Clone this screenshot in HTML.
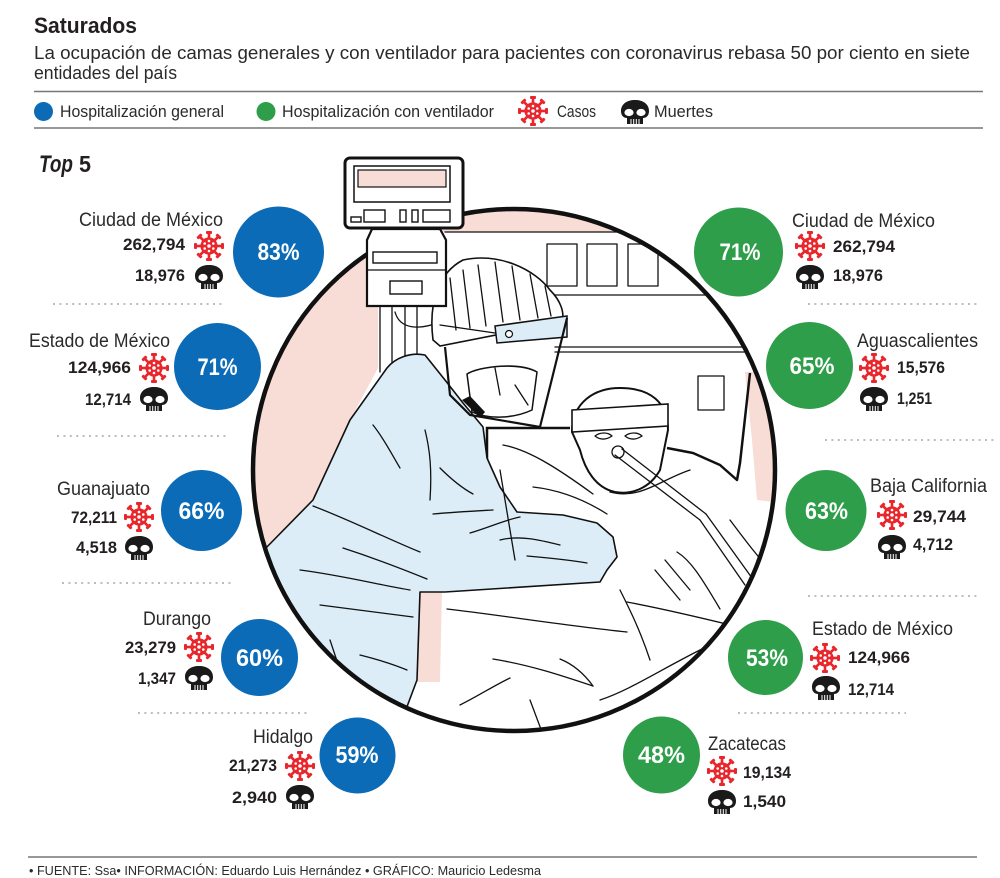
<!DOCTYPE html>
<html><head><meta charset="utf-8"><style>
html,body{margin:0;padding:0;background:#fff;}
svg{display:block;}
text{font-family:"Liberation Sans",sans-serif;}
.nm{font-size:19px;fill:#2a2a2a;}
.nb{font-size:17px;font-weight:bold;fill:#231f20;}
.pc{font-size:24px;font-weight:bold;fill:#fff;}
.ln{fill:none;stroke:#111;stroke-width:1.3;stroke-linecap:round;stroke-linejoin:round;}
.dt{stroke:#bdbdbd;stroke-width:2;stroke-dasharray:2 4.4;}
</style></head><body>
<svg width="1000" height="878" viewBox="0 0 1000 878" xmlns="http://www.w3.org/2000/svg">
<defs>
<g id="sp"><rect x="-1.3" y="-13" width="2.6" height="6"/><rect x="-3" y="-15" width="6" height="3" rx="1"/></g>
<g id="vir" fill="#e8262b">
<circle r="8.6"/>
<use href="#sp"/><use href="#sp" transform="rotate(45)"/><use href="#sp" transform="rotate(90)"/><use href="#sp" transform="rotate(135)"/><use href="#sp" transform="rotate(180)"/><use href="#sp" transform="rotate(225)"/><use href="#sp" transform="rotate(270)"/><use href="#sp" transform="rotate(315)"/>
<g fill="#fff"><circle r="1.8"/><circle cx="0" cy="-5" r="1.3"/><circle cx="4.3" cy="-2.5" r="1.3"/><circle cx="4.3" cy="2.5" r="1.3"/><circle cx="0" cy="5" r="1.3"/><circle cx="-4.3" cy="2.5" r="1.3"/><circle cx="-4.3" cy="-2.5" r="1.3"/></g>
</g>
<g id="sk">
<path d="M0,-12 C8,-12 14,-8 14,-1 C14,4 11,6 8,6 L8,12 L-8,12 L-8,6 C-11,6 -14,4 -14,-1 C-14,-8 -8,-12 0,-12Z" fill="#1a1a1a"/>
<ellipse cx="-6" cy="0.5" rx="4.6" ry="3.6" fill="#fff"/>
<ellipse cx="6" cy="0.5" rx="4.6" ry="3.6" fill="#fff"/>
<path d="M-4,7V12M-1.3,7V12M1.3,7V12M4,7V12" stroke="#fff" stroke-width="1"/>
</g>
<clipPath id="cc"><circle cx="514" cy="470" r="261"/></clipPath>
</defs>

<!-- Header -->
<text x="34" y="33" font-size="22" font-weight="bold" fill="#231f20" textLength="103" lengthAdjust="spacingAndGlyphs">Saturados</text>
<text x="34" y="59" font-size="18" fill="#2a2a2a" textLength="936" lengthAdjust="spacingAndGlyphs">La ocupación de camas generales y con ventilador para pacientes con coronavirus rebasa 50 por ciento en siete</text>
<text x="34" y="79" font-size="18" fill="#2a2a2a" textLength="143" lengthAdjust="spacingAndGlyphs">entidades del país</text>
<line x1="34" y1="91.5" x2="983" y2="91.5" stroke="#777" stroke-width="1.5"/>
<line x1="34" y1="128" x2="983" y2="128" stroke="#777" stroke-width="1.5"/>

<!-- Legend -->
<circle cx="43.5" cy="111.5" r="9.5" fill="#0b6bb7"/>
<text x="60" y="117" font-size="17" fill="#2a2a2a" textLength="164" lengthAdjust="spacingAndGlyphs">Hospitalización general</text>
<circle cx="266" cy="111.5" r="9.5" fill="#2e9e4a"/>
<text x="282" y="117" font-size="17" fill="#2a2a2a" textLength="212" lengthAdjust="spacingAndGlyphs">Hospitalización con ventilador</text>
<use href="#vir" transform="translate(533,111)"/>
<text x="557" y="117" font-size="17" fill="#2a2a2a" textLength="39" lengthAdjust="spacingAndGlyphs">Casos</text>
<use href="#sk" transform="translate(635,112)"/>
<text x="654" y="117" font-size="17" fill="#2a2a2a" textLength="59" lengthAdjust="spacingAndGlyphs">Muertes</text>

<!-- Top 5 -->
<text x="39" y="172" font-size="24" font-weight="bold" font-style="italic" fill="#231f20" textLength="34" lengthAdjust="spacingAndGlyphs">Top</text>
<text x="79" y="172" font-size="23" font-weight="bold" fill="#231f20" textLength="12" lengthAdjust="spacingAndGlyphs">5</text>

<!-- Illustration -->
<circle cx="514" cy="470" r="261" fill="#fff"/>
<g clip-path="url(#cc)">
<path d="M240,190 H800 V232 H378 V368 L350,420 L313,500 L262,552 L240,560 Z" fill="#f8dcd6"/>
<path d="M745,372 L800,372 L800,505 L757,500 L752,440 Z" fill="#f8dcd6"/>
<path d="M417,590 L442,588 L440,682 L417,682 Z" fill="#f8dcd6"/>
<!-- room -->
<g class="ln" stroke-width="1.5">
<line x1="445" y1="232" x2="800" y2="232"/>
<rect x="547" y="244" width="30" height="42"/>
<rect x="587" y="244" width="30" height="42"/>
<rect x="628" y="244" width="30" height="42"/>
<line x1="540" y1="295" x2="760" y2="295"/>
<line x1="555" y1="347" x2="780" y2="347"/>
<line x1="555" y1="352" x2="780" y2="352"/>
<rect x="698" y="376" width="26" height="34"/>
<line x1="380" y1="307" x2="380" y2="372"/>
<line x1="392" y1="307" x2="392" y2="372"/>
<line x1="405" y1="307" x2="405" y2="372"/>
<line x1="417" y1="307" x2="417" y2="372"/>
<path d="M395,312 C400,330 420,330 440,322"/>
</g>
<path d="M750,373 L740,463 L737,480 L720,465 L693,453 L667,448" fill="none" stroke="#111" stroke-width="2.5" stroke-linejoin="round"/>
<path d="M487,560 L487,428 L570,428" fill="none" stroke="#111" stroke-width="2.5"/>
<!-- nurse body -->
<path d="M387,368 C395,358 410,352 425,355 L445,380 L463,403 L483,427 L487,458 L500,487 L517,512 L563,515 L597,523 L613,537 L617,557 L607,570 L600,582 L445,592 L420,592 L417,680 L405,712 L250,712 L250,552 L262,552 L313,500 L350,420 Z" fill="#dcedf8" stroke="#111" stroke-width="1.6" stroke-linejoin="round"/>
<!-- nurse cap -->
<path d="M433,340 C428,300 440,272 463,260 C500,252 535,270 550,290 C560,300 565,312 562,322 L440,346 Z" fill="#fff" stroke="#111" stroke-width="1.6"/>
<g class="ln">
<path d="M450,278 L456,330"/><path d="M463,270 L470,328"/><path d="M478,265 L486,326"/><path d="M495,262 L503,322"/><path d="M512,266 L520,320"/><path d="M530,274 L538,318"/><path d="M545,286 L551,316"/>
</g>
<path d="M495,326 L567,316 L567,337 L497,343 Z" fill="#dcedf8" stroke="#111" stroke-width="1.5"/>
<path class="ln" d="M440,325 L495,333"/>
<circle cx="509" cy="334" r="3.5" fill="#fff" stroke="#111" stroke-width="1.2"/>
<path d="M445,347 L450,395 L470,415 L540,427 L567,318" fill="none" stroke="#111" stroke-width="2.2"/>
<path d="M467,374 C480,366 520,362 537,372 L532,410 C515,418 490,420 472,412 Z" fill="#fff" stroke="#111" stroke-width="1.5"/>
<path d="M462,400 L470,396 L485,412 L480,418 Z" fill="#111"/>
<path class="ln" d="M495,368 L500,395 M515,385 L528,405"/>
<!-- patient -->
<path d="M572,432 C572,402 595,388 620,388 C650,388 668,402 668,430 L660,470 C650,488 632,495 615,492 C596,488 585,470 580,450 Z" fill="#fff" stroke="#111" stroke-width="2"/>
<path d="M572,410 L668,404 L668,426 L572,432 Z" fill="#fff" stroke="#111" stroke-width="1.6"/>
<g class="ln">
<path d="M595,436 C600,432 608,432 612,436 C606,440 600,440 595,436Z"/>
<path d="M625,436 C630,432 638,432 642,436 C636,440 630,440 625,436Z"/>
<circle cx="618" cy="452" r="6"/>
<path d="M615,455 L700,520 M622,449 L706,514"/>
<path d="M700,520 L745,585 M706,514 L752,578"/>
<path d="M503,445 C530,450 560,470 593,494"/>
<path d="M533,487 C560,490 585,500 607,514"/>
<path d="M610,492 C640,500 660,480 690,470"/>
<path d="M677,552 C690,560 700,575 720,609"/>
<path d="M665,560 L690,590 M655,570 L680,600"/>
<path d="M447,609 C500,615 560,625 627,632"/>
<path d="M493,659 C530,665 560,675 593,686"/>
<path d="M560,659 C575,665 585,675 593,686"/>
<path d="M627,602 C670,610 710,620 743,628"/>
<path d="M460,705 C480,695 495,685 510,678"/>
<path d="M600,700 C630,690 660,670 700,650"/>
<path d="M530,700 L545,740 M640,710 L650,740"/>
<path d="M620,590 C630,610 640,630 650,660"/>
<path d="M700,650 C720,640 745,630 770,625"/>
<path d="M730,520 C745,540 760,560 775,575"/>
<path d="M500,470 C505,500 510,530 515,560"/>
</g>
<!-- nurse folds -->
<g class="ln">
<path d="M313,506 C350,520 390,540 420,552"/>
<path d="M343,548 C380,560 405,570 427,579"/>
<path d="M320,605 C360,610 390,614 413,617"/>
<path d="M300,570 C340,575 380,585 410,590"/>
<path d="M360,655 C380,660 395,665 407,670"/>
<path d="M373,425 C385,440 392,455 400,468"/>
<path d="M440,468 C450,478 462,488 473,494"/>
<path d="M433,514 C455,512 475,511 493,510"/>
<path d="M470,533 C490,527 505,520 520,517"/>
<path d="M527,556 C550,558 570,560 587,563"/>
<path d="M500,540 C520,535 540,540 560,545"/>
<path d="M425,430 C430,450 432,470 430,500"/>
<path d="M330,640 L350,700"/>
</g>
</g>
<circle cx="514" cy="470" r="261" fill="none" stroke="#111" stroke-width="4.5"/>

<!-- device & monitor -->
<path d="M372,229 H440 L446,240 V306 H367 V240 Z" fill="#fff" stroke="#111" stroke-width="2.2"/>
<rect x="373" y="252" width="64" height="11" fill="none" stroke="#111" stroke-width="1.4"/>
<rect x="390" y="281" width="32" height="13" fill="none" stroke="#111" stroke-width="1.4"/>
<line x1="368" y1="270" x2="445" y2="270" stroke="#111" stroke-width="1.2"/>
<rect x="345" y="158" width="118" height="70" rx="5" fill="#fff" stroke="#111" stroke-width="3"/>
<rect x="354" y="166" width="96" height="36" fill="none" stroke="#111" stroke-width="1.5"/>
<rect x="358" y="170" width="88" height="17" fill="#f8dcd6" stroke="#111" stroke-width="1.2"/>
<g fill="none" stroke="#111" stroke-width="1.4">
<rect x="351" y="217" width="10" height="5"/>
<rect x="364" y="210" width="21" height="12"/>
<rect x="400" y="210" width="6" height="12"/>
<rect x="412" y="210" width="6" height="12"/>
<rect x="423" y="210" width="27" height="12"/>
</g>

<!-- LEFT column -->
<text class="nm" x="79" y="226" textLength="144" lengthAdjust="spacingAndGlyphs">Ciudad de México</text>
<text class="nb" x="123" y="250" textLength="62" lengthAdjust="spacingAndGlyphs">262,794</text>
<text class="nb" x="135" y="281" textLength="50" lengthAdjust="spacingAndGlyphs">18,976</text>
<use href="#vir" transform="translate(209,246)"/>
<use href="#sk" transform="translate(209,277)"/>
<circle cx="278.5" cy="252" r="45.5" fill="#0b6bb7"/>
<text class="pc" x="278.5" y="260" text-anchor="middle" textLength="42" lengthAdjust="spacingAndGlyphs">83%</text>
<line class="dt" x1="53" y1="304" x2="223" y2="304"/>

<text class="nm" x="29" y="347" textLength="141" lengthAdjust="spacingAndGlyphs">Estado de México</text>
<text class="nb" x="68" y="373" textLength="63" lengthAdjust="spacingAndGlyphs">124,966</text>
<text class="nb" x="85" y="405" textLength="46" lengthAdjust="spacingAndGlyphs">12,714</text>
<use href="#vir" transform="translate(154,368)"/>
<use href="#sk" transform="translate(154,399)"/>
<circle cx="217.5" cy="366.5" r="43.5" fill="#0b6bb7"/>
<text class="pc" x="217.5" y="375" text-anchor="middle" textLength="40" lengthAdjust="spacingAndGlyphs">71%</text>
<line class="dt" x1="57" y1="436" x2="226" y2="436"/>

<text class="nm" x="57" y="495" textLength="93" lengthAdjust="spacingAndGlyphs">Guanajuato</text>
<text class="nb" x="71" y="523" textLength="46" lengthAdjust="spacingAndGlyphs">72,211</text>
<text class="nb" x="76" y="553" textLength="41" lengthAdjust="spacingAndGlyphs">4,518</text>
<use href="#vir" transform="translate(139,517)"/>
<use href="#sk" transform="translate(139,548)"/>
<circle cx="201.5" cy="510.5" r="40.5" fill="#0b6bb7"/>
<text class="pc" x="201.5" y="519" text-anchor="middle" textLength="46" lengthAdjust="spacingAndGlyphs">66%</text>
<line class="dt" x1="62" y1="583" x2="231" y2="583"/>

<text class="nm" x="143" y="625" textLength="68" lengthAdjust="spacingAndGlyphs">Durango</text>
<text class="nb" x="125" y="653" textLength="51" lengthAdjust="spacingAndGlyphs">23,279</text>
<text class="nb" x="138" y="684" textLength="38" lengthAdjust="spacingAndGlyphs">1,347</text>
<use href="#vir" transform="translate(199,647)"/>
<use href="#sk" transform="translate(199,678)"/>
<circle cx="259.5" cy="657.5" r="38.5" fill="#0b6bb7"/>
<text class="pc" x="259.5" y="666" text-anchor="middle" textLength="47" lengthAdjust="spacingAndGlyphs">60%</text>
<line class="dt" x1="138" y1="713" x2="307" y2="713"/>

<text class="nm" x="253" y="743" textLength="60" lengthAdjust="spacingAndGlyphs">Hidalgo</text>
<text class="nb" x="229" y="771" textLength="48" lengthAdjust="spacingAndGlyphs">21,273</text>
<text class="nb" x="232" y="803" textLength="45" lengthAdjust="spacingAndGlyphs">2,940</text>
<use href="#vir" transform="translate(300,766)"/>
<use href="#sk" transform="translate(300,797)"/>
<circle cx="357.5" cy="755.5" r="38" fill="#0b6bb7"/>
<text class="pc" x="357" y="763" text-anchor="middle" textLength="43" lengthAdjust="spacingAndGlyphs">59%</text>

<!-- RIGHT column -->
<circle cx="738.5" cy="252" r="44.5" fill="#2e9e4a"/>
<text class="pc" x="740" y="260" text-anchor="middle" textLength="41" lengthAdjust="spacingAndGlyphs">71%</text>
<text class="nm" x="792" y="227" textLength="143" lengthAdjust="spacingAndGlyphs">Ciudad de México</text>
<use href="#vir" transform="translate(810,246)"/>
<text class="nb" x="833" y="252" textLength="62" lengthAdjust="spacingAndGlyphs">262,794</text>
<use href="#sk" transform="translate(810,277)"/>
<text class="nb" x="833" y="281" textLength="50" lengthAdjust="spacingAndGlyphs">18,976</text>
<line class="dt" x1="808" y1="304" x2="977" y2="304"/>

<circle cx="809.5" cy="365.5" r="43.5" fill="#2e9e4a"/>
<text class="pc" x="812" y="374" text-anchor="middle" textLength="45" lengthAdjust="spacingAndGlyphs">65%</text>
<text class="nm" x="857" y="347" textLength="121" lengthAdjust="spacingAndGlyphs">Aguascalientes</text>
<use href="#vir" transform="translate(874,368)"/>
<text class="nb" x="897" y="373" textLength="48" lengthAdjust="spacingAndGlyphs">15,576</text>
<use href="#sk" transform="translate(874,399)"/>
<text class="nb" x="897" y="404" textLength="35" lengthAdjust="spacingAndGlyphs">1,251</text>
<line class="dt" x1="825" y1="440" x2="995" y2="440"/>

<circle cx="826" cy="510.5" r="40.5" fill="#2e9e4a"/>
<text class="pc" x="826.5" y="519" text-anchor="middle" textLength="43" lengthAdjust="spacingAndGlyphs">63%</text>
<text class="nm" x="870" y="492" textLength="117" lengthAdjust="spacingAndGlyphs">Baja California</text>
<use href="#vir" transform="translate(892,515)"/>
<text class="nb" x="913" y="522" textLength="53" lengthAdjust="spacingAndGlyphs">29,744</text>
<use href="#sk" transform="translate(892,547)"/>
<text class="nb" x="913" y="550" textLength="40" lengthAdjust="spacingAndGlyphs">4,712</text>
<line class="dt" x1="808" y1="596" x2="978" y2="596"/>

<circle cx="765.5" cy="657.5" r="37.5" fill="#2e9e4a"/>
<text class="pc" x="767" y="666" text-anchor="middle" textLength="42" lengthAdjust="spacingAndGlyphs">53%</text>
<text class="nm" x="812" y="635" textLength="141" lengthAdjust="spacingAndGlyphs">Estado de México</text>
<use href="#vir" transform="translate(825,658)"/>
<text class="nb" x="848" y="663" textLength="62" lengthAdjust="spacingAndGlyphs">124,966</text>
<use href="#sk" transform="translate(826,688)"/>
<text class="nb" x="848" y="695" textLength="46" lengthAdjust="spacingAndGlyphs">12,714</text>
<line class="dt" x1="738" y1="713" x2="906" y2="713"/>

<circle cx="661.5" cy="755" r="38.5" fill="#2e9e4a"/>
<text class="pc" x="661.5" y="763" text-anchor="middle" textLength="47" lengthAdjust="spacingAndGlyphs">48%</text>
<text class="nm" x="708" y="750" textLength="78" lengthAdjust="spacingAndGlyphs">Zacatecas</text>
<use href="#vir" transform="translate(722,771)"/>
<text class="nb" x="743" y="778" textLength="48" lengthAdjust="spacingAndGlyphs">19,134</text>
<use href="#sk" transform="translate(722,802)"/>
<text class="nb" x="743" y="807" textLength="43" lengthAdjust="spacingAndGlyphs">1,540</text>

<!-- Footer -->
<line x1="28" y1="857" x2="977" y2="857" stroke="#777" stroke-width="1.5"/>
<text x="29" y="875" font-size="13" fill="#2a2a2a" textLength="512" lengthAdjust="spacingAndGlyphs">• FUENTE: Ssa• INFORMACIÓN: Eduardo Luis Hernández • GRÁFICO: Mauricio Ledesma</text>
</svg>
</body></html>
